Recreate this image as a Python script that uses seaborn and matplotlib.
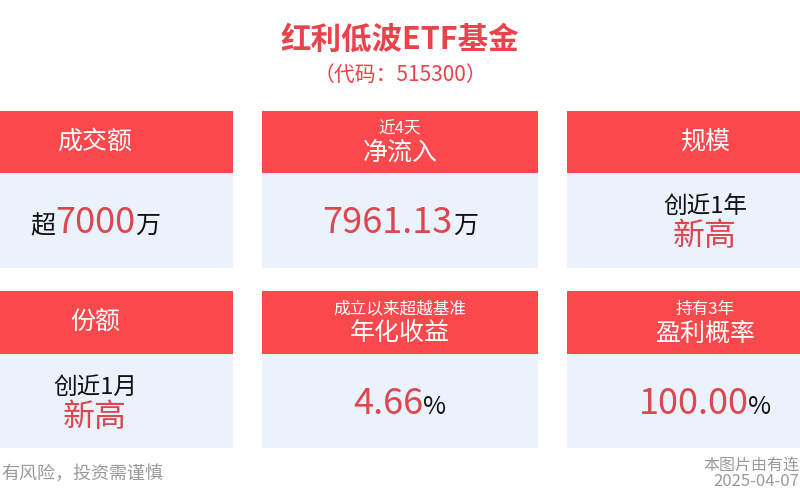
import matplotlib
matplotlib.use("Agg")
import matplotlib.pyplot as plt
import seaborn as sns
from matplotlib.patches import Rectangle

# ---------------- data ----------------
title = "红利低波ETF基金"
subtitle = "（代码：515300）"
header_small = ["", "近4天", "", "", "成立以来超越基准", "持有3年"]
header_main = ["成交额", "净流入", "规模", "份额", "年化收益", "盈利概率"]
value_prefix = ["超", "", "创近1年", "创近1月", "", ""]
value_main = ["7000", "7961.13", "新高", "新高", "4.66", "100.00"]
value_suffix = ["万", "万", "", "", "%", "%"]
footer_left = "有风险，投资需谨慎"
footer_right = ["本图片由有连", "2025-04-07"]

# ---------------- style ----------------
sns.set_theme(style="white")
plt.rcParams['font.family'] = ['Noto Sans CJK SC', 'DejaVu Sans']

RED_HEAD = "#F9494D"
BODY_BG = "#EBF2FC"
RED_VAL = "#DC4750"
RED_TITLE = "#E9434C"
BLACK = "#111111"
GRAY = "#9A9A9A"

fig = plt.figure(figsize=(8, 5), dpi=100)
fig.patch.set_facecolor("white")
ax = fig.add_axes([0, 0, 1, 1])
ax.set_xlim(0, 800)
ax.set_ylim(500, 0)
ax.axis("off")

centers_x = [95, 400, 705]
card_w = 276
rows = [(111, 173, 268), (291, 354, 448)]

ax.text(400, 40, title, ha="center", va="center", fontsize=22,
        color=RED_TITLE, fontweight="bold")
ax.text(400, 75, subtitle, ha="center", va="center", fontsize=15,
        color=RED_TITLE)

fig.canvas.draw()
renderer = fig.canvas.get_renderer()


def draw_line(xc, y, pieces, va="baseline"):
    texts = []
    widths = []
    for s, size, col in pieces:
        t = ax.text(0, y, s, fontsize=size, color=col, ha="left", va=va)
        w = t.get_window_extent(renderer).width
        texts.append(t)
        widths.append(w)
    total = sum(widths)
    x = xc - total / 2
    for t, w in zip(texts, widths):
        t.set_x(x)
        x += w


for i in range(6):
    r, c = divmod(i, 3)
    top, mid, bot = rows[r]
    xc = centers_x[c]
    ax.add_patch(Rectangle((xc - card_w / 2, top), card_w, mid - top,
                           facecolor=RED_HEAD, edgecolor="none"))
    ax.add_patch(Rectangle((xc - card_w / 2, mid), card_w, bot - mid,
                           facecolor=BODY_BG, edgecolor="none"))
    hc = (top + mid) / 2
    if header_small[i]:
        ax.text(xc, hc - 13, header_small[i], ha="center", va="center",
                fontsize=12, color="white")
        ax.text(xc, hc + 11, header_main[i], ha="center", va="center",
                fontsize=18, color="white")
    else:
        ax.text(xc, hc, header_main[i], ha="center", va="center",
                fontsize=18, color="white")

    if value_suffix[i] or (value_prefix[i] and len(value_prefix[i]) == 1):
        base = mid + 60
        pieces = []
        if value_prefix[i]:
            pieces.append((value_prefix[i], 18, BLACK))
        pieces.append((value_main[i], 26, RED_VAL))
        if value_suffix[i]:
            pieces.append((value_suffix[i], 18, BLACK))
        draw_line(xc, base, pieces)
    else:
        ax.text(xc, mid + 33, value_prefix[i], ha="center", va="center",
                fontsize=17, color=BLACK)
        ax.text(xc, mid + 63, value_main[i], ha="center", va="center",
                fontsize=23, color=RED_VAL)

ax.text(1, 474, footer_left, ha="left", va="center", fontsize=13, color=GRAY)
ax.text(799, 465, footer_right[0], ha="right", va="center", fontsize=11.5, color=GRAY)
ax.text(799, 482, footer_right[1], ha="right", va="center", fontsize=12, color=GRAY)

fig.savefig("out.png", dpi=100, facecolor="white")
